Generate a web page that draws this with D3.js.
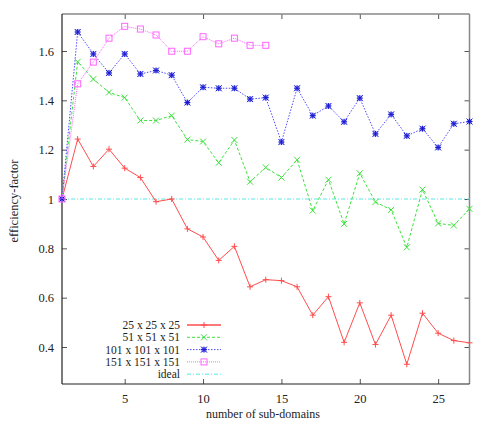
<!DOCTYPE html>
<html><head><meta charset="utf-8">
<script src="https://cdn.jsdelivr.net/npm/d3@7"></script>
<style>body{margin:0;background:#fff}svg{display:block}text{font-family:"Liberation Serif","Times New Roman",serif;fill:#222}</style>
</head><body>
<script>
const xs = d3.range(1, 28);
const s25 = [1.0,1.243,1.132,1.202,1.125,1.087,0.989,1.0,0.879,0.846,0.751,0.808,0.644,0.673,0.669,0.644,0.529,0.604,0.419,0.579,0.410,0.529,0.330,0.537,0.456,0.426,0.417];
const s51 = [1.0,1.556,1.486,1.432,1.411,1.318,1.318,1.338,1.241,1.233,1.147,1.239,1.070,1.128,1.087,1.159,0.953,1.078,0.899,1.104,0.988,0.956,0.804,1.038,0.901,0.893,0.960];
const s101 = [1.0,1.677,1.588,1.511,1.588,1.507,1.521,1.502,1.391,1.453,1.449,1.449,1.405,1.411,1.231,1.449,1.338,1.377,1.313,1.409,1.264,1.343,1.256,1.285,1.209,1.305,1.314];
const s151 = [1.0,1.467,1.555,1.652,1.700,1.689,1.665,1.599,1.599,1.658,1.629,1.652,1.623,1.623];
const ideal = [1.0, 1.0];
const idealX = [1, 27];
const xTicks = [5, 10, 15, 20, 25];
const yTicks = [0.4, 0.6, 0.8, 1.0, 1.2, 1.4, 1.6];
const labels = ["25 x 25 x 25", "51 x 51 x 51", "101 x 101 x 101", "151 x 151 x 151", "ideal"];

const W = 491, H = 446;
const L = 62, R = 469.5, T = 14, B = 384;
const svg = d3.select("body").append("svg").attr("width", W).attr("height", H);
const x = d3.scaleLinear().domain([1, 27]).range([L, R]);
const y = d3.scaleLinear().domain([0.25, 1.75]).range([B, T]);

const series = [
  {name: labels[0], xv: xs, yv: s25, color: "#ff4d4d", dash: null, mark: "plus"},
  {name: labels[1], xv: xs, yv: s51, color: "#3ee03e", dash: "3,2", mark: "cross"},
  {name: labels[2], xv: xs, yv: s101, color: "#4d4dff", dash: "1.5,1.5", mark: "star"},
  {name: labels[3], xv: xs.slice(0, s151.length), yv: s151, color: "#ff66ff", dash: "1,1", mark: "square"},
  {name: labels[4], xv: idealX, yv: ideal, color: "#55e8e8", dash: "4,2,1,2", mark: null}
];

const fmt = d => d === 1 ? "1" : d3.format(".1f")(d);
const axB = svg.append("g").attr("transform", `translate(0,${B})`)
  .call(d3.axisBottom(x).tickValues(xTicks).tickSizeInner(-5).tickSizeOuter(0).tickPadding(10));
const axT = svg.append("g").attr("transform", `translate(0,${T})`)
  .call(d3.axisTop(x).tickValues(xTicks).tickSizeInner(-5).tickSizeOuter(0).tickFormat(""));
const axL = svg.append("g").attr("transform", `translate(${L},0)`)
  .call(d3.axisLeft(y).tickValues(yTicks).tickSizeInner(-5).tickSizeOuter(0).tickPadding(8).tickFormat(fmt));
const axR = svg.append("g").attr("transform", `translate(${R},0)`)
  .call(d3.axisRight(y).tickValues(yTicks).tickSizeInner(-5).tickSizeOuter(0).tickFormat(""));
[axB, axT, axL, axR].forEach(a => {
  a.select(".domain").remove();
  a.selectAll(".tick line").attr("stroke", "#555").attr("stroke-width", 1);
  a.selectAll(".tick text").attr("font-size", 12.5).attr("fill", "#222")
    .style("font-family", '"Liberation Serif",serif');
});

svg.append("line").attr("x1", L).attr("x2", R).attr("y1", T).attr("y2", T).attr("stroke", "#888").attr("stroke-width", 1.5);
svg.append("line").attr("x1", R).attr("x2", R).attr("y1", T).attr("y2", B).attr("stroke", "#888").attr("stroke-width", 1.5);
svg.append("line").attr("x1", L).attr("x2", R).attr("y1", B).attr("y2", B).attr("stroke", "#222").attr("stroke-width", 1.2);
svg.append("line").attr("x1", L).attr("x2", L).attr("y1", T).attr("y2", B).attr("stroke", "#222").attr("stroke-width", 1.2);

function drawMark(g, kind, cx, cy, color) {
  const s = 3;
  if (kind === "plus") {
    g.append("path").attr("d", `M${cx-s},${cy}H${cx+s}M${cx},${cy-s}V${cy+s}`).attr("stroke", color).attr("stroke-width", 1).attr("fill", "none");
  } else if (kind === "cross") {
    g.append("path").attr("d", `M${cx-s},${cy-s}L${cx+s},${cy+s}M${cx-s},${cy+s}L${cx+s},${cy-s}`).attr("stroke", color).attr("stroke-width", 1).attr("fill", "none");
  } else if (kind === "star") {
    g.append("rect").attr("x", cx-2.5).attr("y", cy-2.5).attr("width", 5).attr("height", 5).attr("fill", "#9a9aff").attr("stroke", "none");
    g.append("path").attr("d", `M${cx-s},${cy}H${cx+s}M${cx},${cy-s}V${cy+s}M${cx-s},${cy-s}L${cx+s},${cy+s}M${cx-s},${cy+s}L${cx+s},${cy-s}`).attr("stroke", "#1a1acc").attr("stroke-width", 1).attr("fill", "none");
  } else if (kind === "square") {
    g.append("rect").attr("x", cx-s).attr("y", cy-s).attr("width", 2*s).attr("height", 2*s).attr("stroke", color).attr("stroke-width", 1).attr("fill", "none");
  }
}

const line = d3.line();
const plot = svg.append("g");
[series[4], series[0], series[1], series[2], series[3]].forEach(sr => {
  const pts = sr.yv.map((v, i) => [x(sr.xv[i]), y(v)]);
  plot.append("path").attr("d", line(pts)).attr("fill", "none").attr("stroke", sr.color)
    .attr("stroke-width", 1).attr("stroke-dasharray", sr.dash);
  if (sr.mark) pts.forEach(p => drawMark(plot, sr.mark, p[0], p[1], sr.color));
});

const lg = svg.append("g");
series.forEach((sr, i) => {
  const ly = 325 + i * 12.3;
  lg.append("text").attr("x", 180).attr("y", ly + 4).attr("text-anchor", "end").attr("font-size", 11.5).text(sr.name);
  lg.append("line").attr("x1", 187).attr("x2", 221).attr("y1", ly).attr("y2", ly)
    .attr("stroke", sr.color).attr("stroke-width", sr.mark === "plus" ? 1.5 : 1).attr("stroke-dasharray", sr.dash);
  if (sr.mark) drawMark(lg, sr.mark, 204, ly, sr.color);
});

svg.append("text").attr("x", 263).attr("y", 418).attr("text-anchor", "middle").attr("font-size", 12).text("number of sub-domains");
svg.append("text").attr("transform", "translate(18,201) rotate(-90)").attr("text-anchor", "middle").attr("font-size", 12.5).text("efficiency-factor");
</script>
</body></html>
